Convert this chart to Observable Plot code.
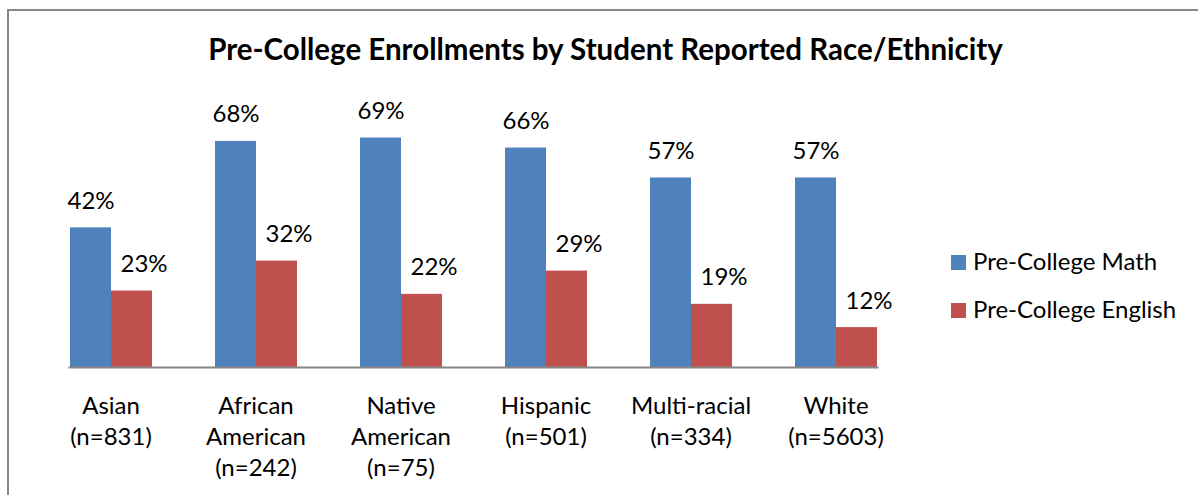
<!DOCTYPE html>
<html>
<head>
<meta charset="utf-8">
<script src="https://cdn.jsdelivr.net/npm/d3@7"></script>
<script src="https://cdn.jsdelivr.net/npm/@observablehq/plot@0.6"></script>
<style>
  html, body { margin: 0; padding: 0; background: #fff; }
  body { width: 1198px; height: 495px; position: relative; overflow: hidden; font-family: Lato, sans-serif; color: #000; }
  #frame { position: absolute; left: 7px; top: 9px; width: 1400px; height: 700px; border-top: 2px solid #878787; border-left: 2px solid #878787; }
  #chart { position: absolute; left: 0; top: 0; }
  #title { position: absolute; left: 0; width: 1211px; top: 34px; text-align: center; font-weight: bold; font-size: 29.5px; line-height: 29.5px; white-space: nowrap; }
  .lg-row { position: absolute; left: 951px; height: 24px; white-space: nowrap; }
  .lg-sw { position: absolute; left: 0; top: 6px; width: 15px; height: 15px; }
  .lg-tx { position: absolute; left: 22px; top: 0; font-size: 24px; line-height: 24px; }
</style>
</head>
<body>
<div id="frame"></div>
<div id="chart"></div>
<div id="title">Pre-College Enrollments by Student Reported Race/Ethnicity</div>
<div id="legend"></div>
<script>
const categories = ["Asian", "African American", "Native American", "Hispanic", "Multi-racial", "White"];
const tickLabels = ["Asian\n(n=831)", "African\nAmerican\n(n=242)", "Native\nAmerican\n(n=75)", "Hispanic\n(n=501)", "Multi-racial\n(n=334)", "White\n(n=5603)"];
const series = ["Pre-College Math", "Pre-College English"];
const mathValues = [42, 68, 69, 66, 57, 57];
const englishValues = [23, 32, 22, 29, 19, 12];
const colors = ["#4f81bd", "#c0504d"];

const data = categories.flatMap((c, i) => [
  {cat: c, series: series[0], value: mathValues[i]},
  {cat: c, series: series[1], value: englishValues[i]}
]);
const labelOf = new Map(categories.map((c, i) => [c, tickLabels[i]]));

const chart = Plot.plot({
  width: 1198,
  height: 495,
  marginLeft: 37,
  marginRight: 290,
  marginTop: 101,
  marginBottom: 128,
  style: {fontFamily: "Lato, sans-serif", fontSize: "24px", color: "#000", background: "none", overflow: "visible"},
  fx: {domain: categories, paddingInner: 0.428, paddingOuter: 0.214, axis: null, label: null},
  x: {domain: series, padding: 0, axis: null},
  y: {domain: [0, 80], axis: null},
  color: {domain: series, range: colors},
  marks: [
    Plot.barY(data, {fx: "cat", x: "series", y: "value", fill: "series"}),
    Plot.frame({anchor: "bottom", facet: "super", stroke: "#868686", strokeWidth: 2}),
    Plot.text(data.filter(d => d.series === series[0]), {fx: "cat", x: "series", y: "value", text: d => d.value + "%", lineAnchor: "bottom", dy: -19, fill: "#000", fontSize: 24}),
    Plot.text(data.filter(d => d.series === series[1]), {fx: "cat", x: "series", y: "value", text: d => d.value + "%", lineAnchor: "bottom", dy: -19, dx: 12, fill: "#000", fontSize: 24}),
    Plot.axisFx({anchor: "bottom", tickSize: 0, tickPadding: 24, label: null, tickFormat: d => labelOf.get(d), lineHeight: 1.3, fontSize: 24, fill: "#000"})
  ]
});
document.getElementById("chart").appendChild(chart);

const legend = document.getElementById("legend");
series.forEach((s, i) => {
  const row = document.createElement("div");
  row.className = "lg-row";
  row.style.top = (249 + 48 * i) + "px";
  const sw = document.createElement("span");
  sw.className = "lg-sw";
  sw.style.background = colors[i];
  const tx = document.createElement("span");
  tx.className = "lg-tx";
  tx.textContent = s;
  row.appendChild(sw);
  row.appendChild(tx);
  legend.appendChild(row);
});
</script>
</body>
</html>
